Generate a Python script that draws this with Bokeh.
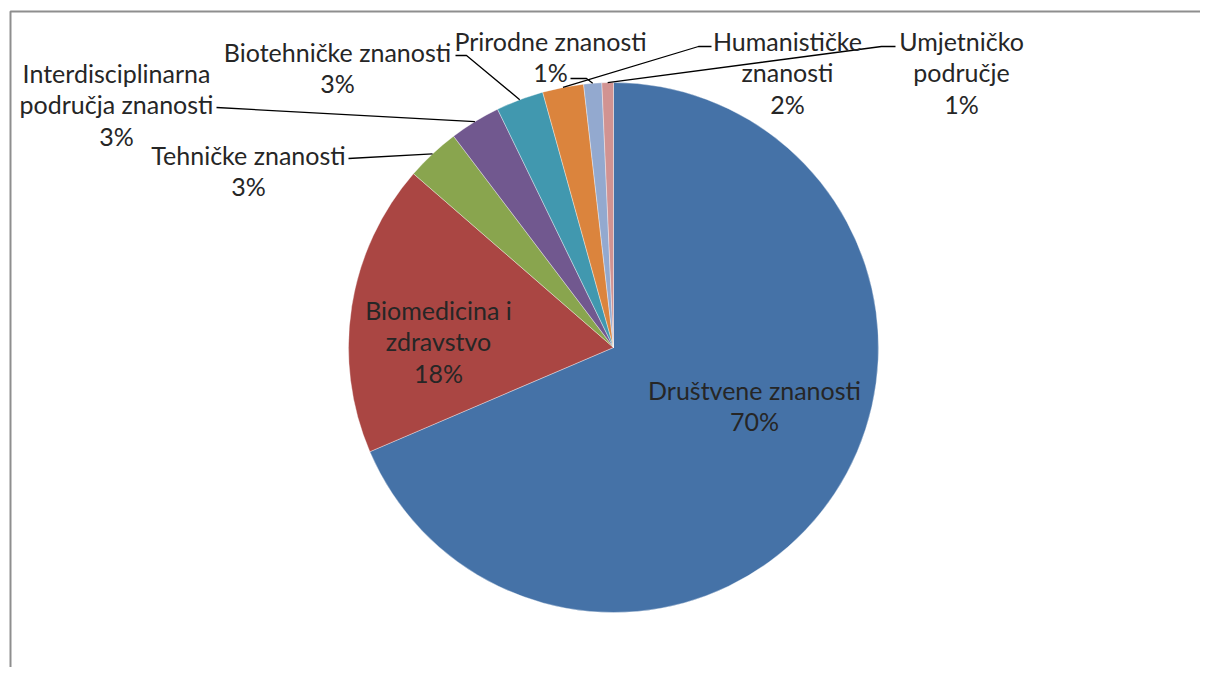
import math
from bokeh.plotting import figure
from bokeh.models import Range1d, ColumnDataSource
from bokeh.core.properties import value
from bokeh.embed import file_html
from bokeh.resources import INLINE

# ---- data ----
categories = ["Društvene znanosti", "Biomedicina i zdravstvo", "Tehničke znanosti",
              "Interdisciplinarna područja znanosti", "Biotehničke znanosti",
              "Humanističke znanosti", "Prirodne znanosti", "Umjetničko područje"]
values = [68.5, 17.8, 3.3, 3.1, 2.9, 2.5, 1.1, 0.7]
pct_labels = ["70%", "18%", "3%", "3%", "3%", "2%", "1%", "1%"]
colors = ["#4572A7", "#AA4643", "#89A54E", "#71588F", "#4198AF", "#DB843D", "#93A9CF", "#D19392"]

# ---- layout (reference pixel coordinates; y measured from top) ----
W, H = 1200, 667
CX, CY, R = 613, 347, 265
FONT = "Lato"
FS = "25px"
TXT = "#262626"

def Y(ry):
    return 675 - ry

label_layout = {
    0: dict(lines=["Društvene znanosti"], x=754, y=389, leader=None),
    1: dict(lines=["Biomedicina i", "zdravstvo"], x=438, y=309, leader=None),
    2: dict(lines=["Tehničke znanosti"], x=248, y=154, leader=[(348, 158)]),
    3: dict(lines=["Interdisciplinarna", "područja znanosti"], x=116, y=72, leader=[(216, 107)]),
    4: dict(lines=["Biotehničke znanosti"], x=337, y=51, leader=[(455, 55), (466, 55)]),
    5: dict(lines=["Humanističke", "znanosti"], x=787, y=40, leader=[(711, 46), (698, 46)]),
    6: dict(lines=["Prirodne znanosti"], x=550, y=40, leader=[(570, 78), (586, 78)]),
    7: dict(lines=["Umjetničko", "područje"], x=961, y=40, leader=[(895, 46), (881, 46)]),
}
LINE_GAP = 31.5

p = figure(width=W, height=H, x_range=Range1d(0, W), y_range=Range1d(675 - H, 675),
           output_backend="svg", toolbar_location=None,
           x_axis_type=None, y_axis_type=None, min_border=0)
p.grid.visible = False
p.outline_line_color = None
p.background_fill_color = "white"
p.border_fill_color = "white"

# chart border (partially visible, top and left)
p.line([10, 10, 1300], [Y(700), Y(11), Y(11)], line_color="#8E8E8E", line_width=2)

# wedges
total = sum(values)
starts, ends, mids = [], [], []
cum = 0.0
for v in values:
    a0 = math.pi / 2 - 2 * math.pi * cum / total
    cum += v
    a1 = math.pi / 2 - 2 * math.pi * cum / total
    starts.append(a0)
    ends.append(a1)
    mids.append((a0 + a1) / 2)

src = ColumnDataSource(dict(start=starts, end=ends, color=colors, cat=categories, val=values))
p.wedge(x=CX, y=Y(CY), radius=R, start_angle="start", end_angle="end", direction="clock",
        fill_color="color", line_color="white", line_width=0.6, line_alpha=0.6, source=src)

# leader lines
for i, lay in label_layout.items():
    if lay["leader"] is None:
        continue
    ex = CX + R * math.cos(mids[i])
    ey = CY - R * math.sin(mids[i])
    pts = lay["leader"] + [(ex, ey)]
    p.line([q[0] for q in pts], [Y(q[1]) for q in pts], line_color="#000000", line_width=1.3)

# texts
for i, lay in label_layout.items():
    lines = lay["lines"] + [pct_labels[i]]
    xs = [lay["x"]] * len(lines)
    ys = [Y(lay["y"] + k * LINE_GAP) for k in range(len(lines))]
    p.text(x=xs, y=ys, text=lines, text_font=value(FONT), text_font_size=FS,
           text_color=TXT, text_align="center", text_baseline="middle")

open("out.html", "w").write(file_html(p, INLINE))
